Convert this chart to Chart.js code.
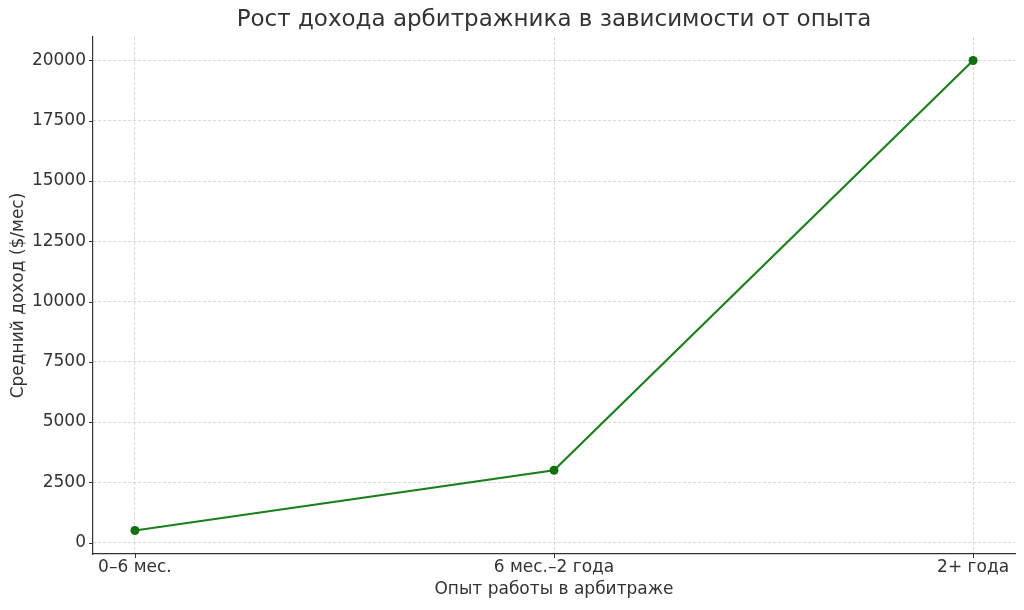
<!DOCTYPE html>
<html>
<head>
<meta charset="utf-8">
<script src="https://cdn.jsdelivr.net/npm/chart.js@4"></script>
<style>
html,body{margin:0;padding:0;background:#fff;}
#wrap{width:1024px;height:610px;}
</style>
</head>
<body>
<div id="wrap"><canvas id="c" width="1024" height="610"></canvas></div>
<script>
const categories = ["0–6 мес.", "6 мес.–2 года", "2+ года"];
const income = [500, 3000, 20000];
const yTickValues = [0, 2500, 5000, 7500, 10000, 12500, 15000, 17500, 20000];
const titleText = "Рост дохода арбитражника в зависимости от опыта";
const xTitle = "Опыт работы в арбитраже";
const yTitle = "Средний доход ($/мес)";

const textColor = '#333333';
const font = 'DejaVu Sans';

const extras = {
  id: 'extras',
  afterDraw(chart) {
    const ctx = chart.ctx;
    const xs = chart.scales.x, ys = chart.scales.y;
    const ca = chart.chartArea;
    ctx.save();
    ctx.strokeStyle = textColor;
    ctx.lineWidth = 1;
    xs.ticks.forEach(t => {
      const px = Math.round(xs.getPixelForValue(t.value)) + 0.5;
      ctx.beginPath(); ctx.moveTo(px, xs.top); ctx.lineTo(px, xs.top + 4); ctx.stroke();
    });
    ys.ticks.forEach(t => {
      const py = Math.round(ys.getPixelForValue(t.value)) + 0.5;
      ctx.beginPath(); ctx.moveTo(ys.right, py); ctx.lineTo(ys.right - 4, py); ctx.stroke();
    });
    ctx.fillStyle = textColor;
    ctx.font = '23px "' + font + '"';
    ctx.textAlign = 'center';
    ctx.textBaseline = 'middle';
    ctx.fillText(titleText, (ca.left + ca.right) / 2, 20);
    ctx.restore();
  }
};

new Chart(document.getElementById('c'), {
  type: 'line',
  data: {
    datasets: [{
      data: income.map((v, i) => ({x: i, y: v})),
      borderColor: '#1a801a',
      backgroundColor: '#107010',
      borderWidth: 2.2,
      pointRadius: 4.5,
      pointHoverRadius: 4.5,
      pointBorderWidth: 0,
      tension: 0
    }]
  },
  options: {
    responsive: false,
    animation: false,
    layout: {padding: {left: 0, right: 9, top: 37, bottom: 0}},
    plugins: {
      legend: {display: false},
      tooltip: {enabled: false},
      title: {display: false}
    },
    scales: {
      x: {
        type: 'linear',
        min: -0.1,
        max: 2.1,
        afterBuildTicks: s => { s.ticks = categories.map((_, i) => ({value: i})); },
        afterFit: s => { s.height = 56; },
        ticks: {
          callback: v => categories[v],
          color: textColor,
          font: {family: font, size: 17},
          padding: 3,
          maxRotation: 0,
          autoSkip: false
        },
        grid: {color: '#d8d8d8', lineWidth: 1, drawTicks: false},
        border: {display: true, color: '#333333', width: 1.2, dash: [3, 2]},
        title: {
          display: true, text: xTitle, color: textColor,
          font: {family: font, size: 17},
          padding: {top: 0, bottom: 10}
        }
      },
      y: {
        min: -475,
        max: 20975,
        afterBuildTicks: s => { s.ticks = yTickValues.map(v => ({value: v})); },
        afterFit: s => { s.width = 93; },
        ticks: {
          callback: v => String(v),
          color: textColor,
          font: {family: font, size: 17},
          padding: 7
        },
        grid: {color: '#d8d8d8', lineWidth: 1, drawTicks: false},
        border: {display: true, color: '#333333', width: 1.2, dash: [3, 2]},
        title: {
          display: true, text: yTitle, color: textColor,
          font: {family: font, size: 17},
          padding: {top: 8, bottom: 0}
        }
      }
    }
  },
  plugins: [extras]
});
</script>
</body>
</html>
